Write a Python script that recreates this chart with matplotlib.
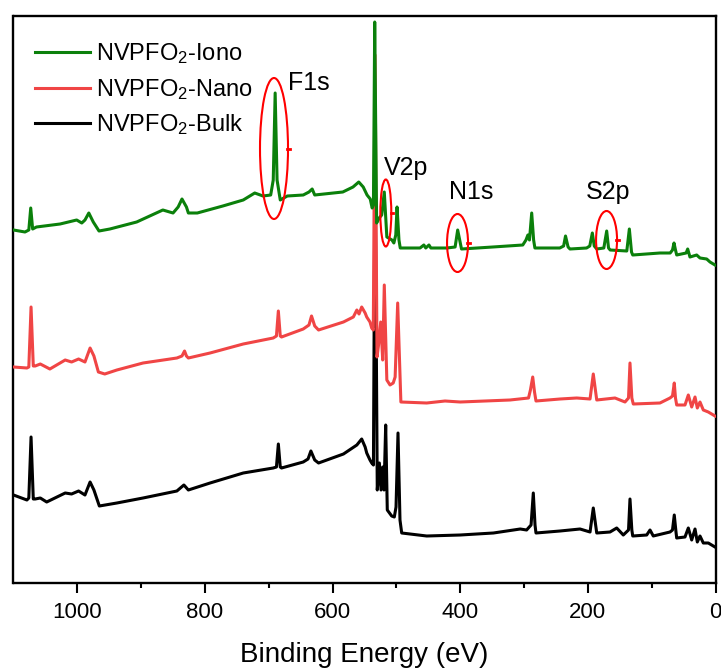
import matplotlib
matplotlib.use("Agg")
import matplotlib.pyplot as plt
from matplotlib.patches import Ellipse

plt.rcParams['font.family'] = ['Liberation Sans', 'DejaVu Sans']
plt.rcParams['mathtext.default'] = 'regular'

# Binding energy (eV), intensity (a.u., offset per sample)
iono = [(1100,353),(1082,351),(1076,353),(1073,375),(1070,354),(1064,356),(1027,359),(1001,363),
        (993,360),(988,363),(982,370),(975,361),(966,352),(949,354),(907,361),(866,373),(850,370),
        (842,376),(836,384),(829,376),(826,370),(812,370),(772,377),(740,383),(722,390),(709,387),
        (697,388),(693,403),(690,490),(687,403),(682,383),(671,387),(646,388),(637,391),(632,394),
        (628,388),(584,391),(568,396),(559,401),(552,396),(546,388),(541,384),(538,375),(536,378),
        (534,561),(531,360),(527,365),(523,368),(519,391),(515,346),(507,343),(504,340),(501,348),
        (499,376),(496,343),(494,335),(463,335),(457,338),(454,335),(449,338),(446,335),(421,335),
        (408,336),(404,353),(398,334),(349,336),(302,338),(297,343),(294,348),(291.5,343),(288,370),
        (285,343),(283,335),(244,335),(238,337),(235,347),(231,336),(228,334),(202,335),(197,337),
        (193,350),(190,337),(186,334),(175,335),(170.5,352),(167.6,335),(165,333),(139,332),(135,354),
        (131.6,331),(129.7,328),(87,330),(71,330),(67.4,333),(65,340),(62.7,333),(60.8,328),(46,330),
        (43.6,334),(40,326),(29.5,328),(24.3,325),(13.8,324),(8.6,321),(0.8,318)]

nano = [(1100,216),(1079,215),(1076,216),(1072.5,276),(1069,217),(1066,217),(1058,219),(1043,214),
        (1019,223),(1009,221),(998,224),(988,221),(980,235),(974,227),(967,211),(957,209),(938,213),
        (897,220),(844,225),(836,227),(832,232),(829,227),(826,225),(792,230),(740,239),(693,245),
        (688,247),(685,272),(682,247),(680,246),(646,254),(637,258),(633,267),(628,257),(622,253),
        (583,261),(567.5,266),(562,273),(558.6,269),(554.4,276),(549,270),(546.5,266),(541.4,261),
        (538.7,255),(536.2,253),(533.5,528),(530.4,226),(528,238),(524.6,261),(521.5,223),(519,298),
        (515,203),(510,198),(505,200),(502,206),(498,280),(493,181),(452.5,180),(423.8,182),(400,181),
        (322,183),(293,185),(290,193),(286.4,206),(283.6,191),(281.3,182),(243.6,184),(217.5,185),
        (196.6,184),(191.5,209),(186.1,183),(157.5,185),(141.8,181),(136.3,185),(134,220),(131.1,185),
        (128.8,179),(87,180),(71.3,185),(67.4,187),(64.6,200),(62.7,185),(60.8,178),(47.8,178),
        (42.6,188),(37.3,176),(32.1,186),(28.5,175),(24.3,181),(19.1,173),(11.3,171),(0.8,167)]

bulk = [(1100,88),(1079,83),(1076,85),(1072.5,146),(1069,84),(1066,84),(1058,85),(1048,81),(1019,90),
        (1009,89),(998,92),(988,88),(980,101),(974,93),(965.5,77),(938,80),(897,85),(844,92),(833,98),
        (826,93),(792,100),(740,110),(693,115),(688,116),(685,139),(682,116),(680,115),(646,121),
        (638.5,124),(634,132),(628,123),(622,120),(583,129),(562,138),(554.4,144),(549,136),(546.5,130),
        (541.4,123),(538.7,120),(536,118),(533.5,433),(530,93),(526.7,120),(524.1,93),(521.5,116),
        (519.4,93),(516.8,158),(514.3,73),(507.4,67),(503.3,66),(500.6,76),(497.5,150),(494.4,63),
        (491.7,50),(452.5,47),(400,48),(348,50),(306,54),(296,53),(289,58),(285.5,90),(282.8,58),
        (281.3,50),(243.6,52),(212.3,54),(196.6,51),(191.5,75),(186.1,50),(165.3,51),(154.8,55),
        (144.5,48),(136.3,53),(134,84),(131.1,53),(129.7,47),(107.8,48),(102.6,53),(97.5,47),(71.3,51),
        (67.4,53),(64.6,68),(61.9,51),(60.8,45),(47.8,46),(42.6,55),(37.3,43),(32.1,54),(28.5,41),
        (24.3,47),(19.1,40),(11.3,40),(0.8,36)]

series_labels = ['NVPFO$_2$-Iono', 'NVPFO$_2$-Nano', 'NVPFO$_2$-Bulk']
series_colors = ['#0b800b', '#f04545', '#000000']

# annotations: label, (label E, label I), ellipse (E center, I center, width eV, height)
peak_labels = ['F1s', 'V2p', 'N1s', 'S2p']
label_pos = [(637, 500), (485, 415), (383, 391), (168, 391)]
ellipses = [(691.8, 434.5, 43.9, 141), (516.6, 370, 17.2, 67), (404.2, 340, 32.9, 58), (170.7, 343, 32.9, 58)]

fig = plt.figure(figsize=(7.21, 6.71), dpi=100)
ax = fig.add_axes([13.5/721, 88/671, 702/721, 567/671])

lines = {}
for data, lab, col, z in zip([bulk, nano, iono], series_labels[::-1], series_colors[::-1], [2, 3, 4]):
    e = [p[0] for p in data]
    i = [p[1] for p in data]
    lines[lab], = ax.plot(e, i, color=col, lw=2.2, label=lab, zorder=z, solid_joinstyle='round')

for (ec, ic, w, h) in ellipses:
    ax.add_patch(Ellipse((ec, ic), w, h, fill=False, edgecolor='#ff0000', lw=1.5, zorder=5))
    ax.plot([ec - w/2 + 1, ec - w/2 - 3.0], [ic, ic], color='#ff0000', lw=2, zorder=5)

for lab, (le, li) in zip(peak_labels, label_pos):
    ax.text(le, li, lab, fontsize=18, ha='center', va='center', zorder=6)

ax.set_xlim(1100, 0)
ax.set_ylim(0, 567)
ax.set_xticks([1000, 800, 600, 400, 200, 0])
ax.set_xticks([900, 700, 500, 300, 100], minor=True)
ax.set_yticks([])
ax.tick_params(axis='x', which='major', direction='out', length=7, width=1.5, labelsize=16, pad=7)
ax.tick_params(axis='x', which='minor', direction='out', length=3.5, width=1.5)
for s in ax.spines.values():
    s.set_linewidth(1.7)
ax.set_xlabel('Binding Energy (eV)', fontsize=20, labelpad=13)

handles = [lines[l] for l in series_labels]
ax.legend(handles, series_labels, loc='upper left', bbox_to_anchor=(0.0306, 0.955), frameon=False,
          fontsize=17, handlelength=2.35, handletextpad=0.25, labelspacing=0.45,
          borderpad=0, borderaxespad=0)

fig.savefig('out.png', dpi=100)
